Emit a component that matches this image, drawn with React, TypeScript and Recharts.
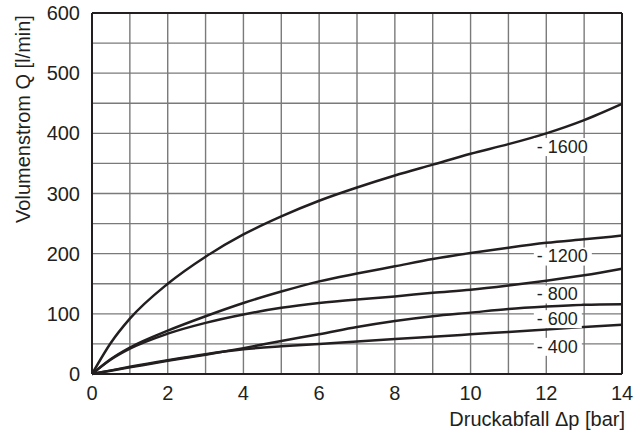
import React from 'react';
import { ComposedChart, Line, XAxis, YAxis, CartesianGrid, ReferenceLine } from 'recharts';

const xValues = [0, 0.5, 1, 2, 3, 4, 5, 6, 7, 8, 9, 10, 11, 12, 13, 14];
const q1600 = [0, 52, 92, 150, 195, 232, 262, 288, 310, 330, 348, 366, 382, 400, 422, 449];
const q1200 = [0, 25, 44, 72, 96, 118, 137, 154, 167, 179, 191, 201, 210, 218, 224, 230];
const q800 = [0, 24, 42, 67, 85, 99, 110, 118, 124, 129, 135, 140, 147, 155, 164, 175];
const q600 = [0, 5.5, 11, 22, 32, 43, 55, 66, 78, 88, 96, 102, 108, 112, 115, 116];
const q400 = [0, 6, 12, 23, 33, 41, 46, 50, 54, 58, 62, 66, 70, 74, 78, 82];

const xTicks = [0, 1, 2, 3, 4, 5, 6, 7, 8, 9, 10, 11, 12, 13, 14];
const yTicks = [0, 50, 100, 150, 200, 250, 300, 350, 400, 450, 500, 550, 600];

const curveLabels = ['- 1600', '- 1200', '- 800', '- 600', '- 400'];
const labelX = [11.75, 11.75, 11.75, 11.75, 11.75];
const labelY = [378, 196, 133, 92, 46];
const labelW = [58, 58, 48, 48, 48];

const xTitle = 'Druckabfall \u0394p [bar]';
const yTitle = 'Volumenstrom Q [l/min]';

const data = xValues.map((x, i) => ({
  x,
  q1600: q1600[i],
  q1200: q1200[i],
  q800: q800[i],
  q600: q600[i],
  q400: q400[i],
}));

const labelData = curveLabels.map((t, i) => ({ x: labelX[i], y: labelY[i], text: t, w: labelW[i] }));

const INK = '#231f20';
const FONT = '"Liberation Sans", Arial, Helvetica, sans-serif';

const series = ['q1600', 'q1200', 'q800', 'q600', 'q400'];

const LabelDot = (p: any) => {
  const { cx, cy, payload } = p;
  if (cx == null || cy == null) return null;
  return (
    <g key={payload.text}>
      <rect x={cx - 3} y={cy - 8.5} width={payload.w} height={18} fill="#fff" />
      <text x={cx} y={cy} dy="0.35em" fill={INK} fontSize={18} fontFamily={FONT}>
        {payload.text}
      </text>
    </g>
  );
};

export default function App() {
  return (
    <div style={{ position: 'absolute', left: 0, top: 0, width: 641, height: 434, background: '#fff' }}>
      <ComposedChart
        width={641}
        height={434}
        data={data}
        margin={{ top: 13, right: 19, left: 0, bottom: 0 }}
        style={{ fontFamily: FONT }}
      >
        <CartesianGrid stroke="#7a7a7a" strokeWidth={1.4} />
        <XAxis
          dataKey="x"
          type="number"
          domain={[0, 14]}
          ticks={xTicks}
          interval={0}
          height={60}
          tickLine={false}
          tickSize={0}
          tickMargin={12}
          axisLine={{ stroke: INK, strokeWidth: 2 }}
          tick={{ fill: INK, fontSize: 20, fontFamily: FONT }}
          tickFormatter={(v: number) => (v % 2 === 0 ? String(v) : '')}
          label={{
            content: (props: any) => {
              const vb = props.viewBox || {};
              return (
                <text
                  x={vb.x + vb.width + 3}
                  y={vb.y + 52}
                  textAnchor="end"
                  fill={INK}
                  fontSize={20}
                  fontFamily={FONT}
                >
                  {xTitle}
                </text>
              );
            },
          }}
        />
        <YAxis
          type="number"
          domain={[0, 600]}
          ticks={yTicks}
          interval={0}
          width={92}
          tickLine={false}
          tickSize={0}
          tickMargin={12}
          axisLine={{ stroke: INK, strokeWidth: 2 }}
          tick={{ fill: INK, fontSize: 20, fontFamily: FONT }}
          tickFormatter={(v: number) => (v % 100 === 0 ? String(v) : '')}
          label={{
            content: () => (
              <text
                x={23}
                y={119}
                transform="rotate(-90, 23, 119)"
                textAnchor="middle"
                dy="0.35em"
                fill={INK}
                fontSize={20}
                fontFamily={FONT}
              >
                {yTitle}
              </text>
            ),
          }}
        />
        <ReferenceLine x={14} stroke={INK} strokeWidth={2} />
        <ReferenceLine y={600} stroke={INK} strokeWidth={2} />
        <Line
          data={labelData}
          dataKey="y"
          stroke="none"
          dot={<LabelDot />}
          activeDot={false}
          isAnimationActive={false}
          legendType="none"
        />
        {series.map((k) => (
          <Line
            key={k}
            dataKey={k}
            type="monotone"
            stroke={INK}
            strokeWidth={2.5}
            dot={false}
            activeDot={false}
            isAnimationActive={false}
          />
        ))}
      </ComposedChart>
    </div>
  );
}
